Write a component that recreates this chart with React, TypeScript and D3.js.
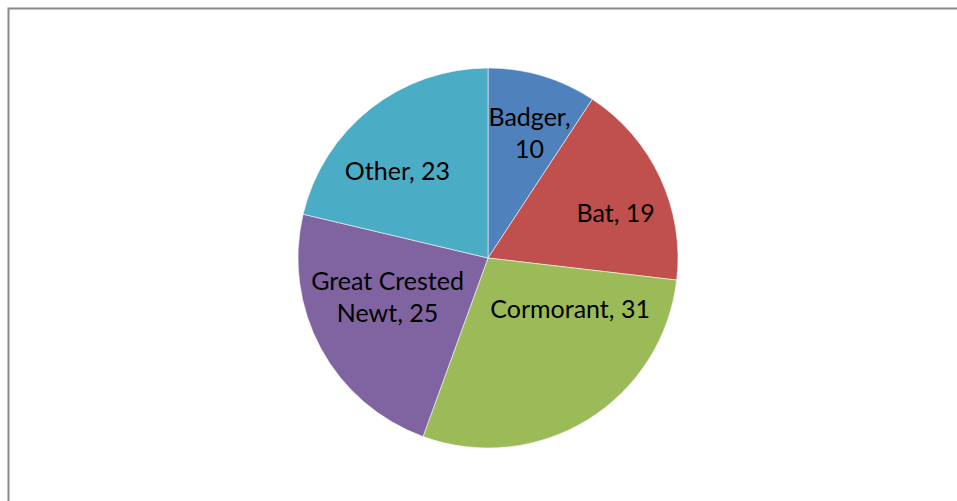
import React from "react";
import * as d3 from "d3";

const categories = ["Badger", "Bat", "Cormorant", "Great Crested Newt", "Other"];
const values = [10, 19, 31, 25, 23];
const colors = ["#4F81BD", "#C0504D", "#9BBB59", "#8064A2", "#4BACC6"];
// label lines (as shown in the chart)
const labelLines = [["Badger,", "10"], ["Bat, 19"], ["Cormorant, 31"], ["Great Crested", "Newt, 25"], ["Other, 23"]];
// label placement: [angle in degrees clockwise from 12 o'clock, fraction of radius]
const labelPolar: [number, number][] = [[18.4, 0.693], [70.8, 0.711], [122.1, 0.51], [248.8, 0.567], [313.7, 0.659]];

const W = 957;
const H = 501;
const cx = 488;
const cy = 258;
const R = 190;
const FONT = 25;
const LINE = 32;

export default function App() {
  const pie = d3.pie<number>().sort(null).value((d) => d);
  const arcs = pie(values);
  const arc = d3.arc<d3.PieArcDatum<number>>().innerRadius(0).outerRadius(R);
  return (
    <svg
      width={W}
      height={H}
      style={{ position: "absolute", left: 0, top: 0, display: "block", background: "#fff" }}
    >
      <rect x={8.5} y={8.5} width={W + 10} height={H + 10} fill="#fff" stroke="#8a8a8a" strokeWidth={2} />
      <g transform={`translate(${cx},${cy})`}>
        {arcs.map((a, i) => (
          <path key={categories[i]} d={arc(a) || ""} fill={colors[i]} stroke="#ffffff" strokeOpacity={0.55} strokeWidth={1} />
        ))}
        {arcs.map((a, i) => {
          const [deg, f] = labelPolar[i];
          const t = (deg * Math.PI) / 180;
          const x = Math.sin(t) * R * f;
          const y = -Math.cos(t) * R * f;
          const lines = labelLines[i];
          const capH = FONT * 0.7;
          const firstBase = y - ((lines.length - 1) * LINE) / 2 + capH / 2;
          return (
            <text
              key={"l" + i}
              x={x}
              y={firstBase}
              textAnchor="middle"
              fontFamily="Lato, 'Open Sans', sans-serif"
              fontSize={FONT}
              fill="#000"
            >
              {lines.map((ln, j) => (
                <tspan key={j} x={x} y={firstBase + j * LINE}>
                  {ln}
                </tspan>
              ))}
            </text>
          );
        })}
      </g>
    </svg>
  );
}
